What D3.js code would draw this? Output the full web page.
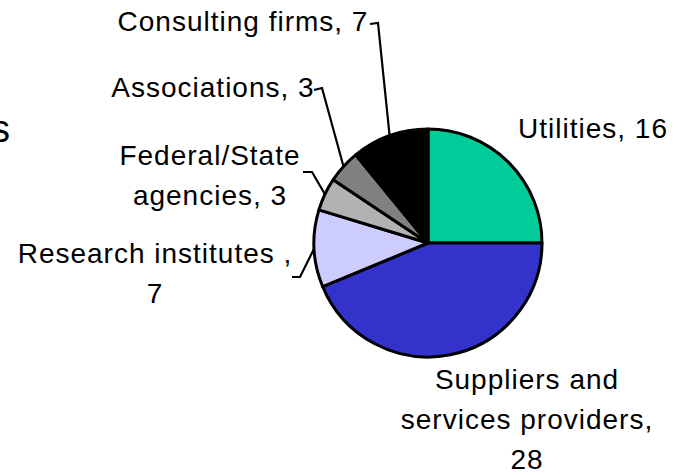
<!DOCTYPE html>
<html>
<head>
<meta charset="utf-8">
<script src="https://cdn.jsdelivr.net/npm/d3@7"></script>
<style>
  html, body { margin: 0; padding: 0; background: #fff; }
  svg { display: block; }
  text { font-family: "Liberation Sans", Arial, sans-serif; fill: #000; }
</style>
</head>
<body>
<svg id="chart" width="680" height="475"></svg>
<script>
// Stakeholder groups and counts, clockwise from 12 o'clock
const categories = ["Utilities", "Suppliers and services providers", "Research institutes",
  "Federal/State agencies", "Associations", "Consulting firms"];
const values = [16, 28, 7, 3, 3, 7];
const colors = ["#00CC99", "#3333CC", "#CCCCFF", "#B2B2B2", "#808080", "#000000"];
// Label text, one entry per line; {v} is replaced by the slice value
const labelLines = [
  ["Utilities, {v}"],
  ["Suppliers and", "services providers,", "{v}"],
  ["Research institutes ,", "{v}"],
  ["Federal/State", "agencies, {v}"],
  ["Associations, {v}"],
  ["Consulting firms, {v}"]
];

const svg = d3.select("#chart");
const cx = 428, cy = 243, r = 114;
const fontSize = 28, lineH = 40;

// label placement: centre x, first baseline y, and an optional leader (stub start, elbow)
const layout = [
  { x: 593, y: 138 },
  { x: 527, y: 389 },
  { x: 155, y: 263, leader: [[292, 277], [300, 277]] },
  { x: 210, y: 165, leader: [[303, 172], [312, 172]] },
  { x: 213, y: 97,  leader: [[314, 90], [322, 88]] },
  { x: 243, y: 31,  leader: [[370, 24], [378, 23]] }
];

const pie = d3.pie().sort(null).value(d => d)
  .startAngle(0).endAngle(2 * Math.PI);
const arcs = pie(values);
const arc = d3.arc().innerRadius(0).outerRadius(r);

const g = svg.append("g").attr("transform", `translate(${cx},${cy})`);

g.selectAll("path.slice")
  .data(arcs)
  .join("path")
  .attr("class", "slice")
  .attr("d", arc)
  .attr("fill", (d, i) => colors[i])
  .attr("stroke", "#000")
  .attr("stroke-width", 3)
  .attr("stroke-linejoin", "round");

// leader lines: stub beside the label, then to the slice edge at mid-angle
const line = d3.line();
arcs.forEach((d, i) => {
  const L = layout[i].leader;
  if (!L) return;
  const a = (d.startAngle + d.endAngle) / 2;
  const edge = [cx + r * Math.sin(a), cy - r * Math.cos(a)];
  svg.append("path")
    .attr("d", line([L[0], L[1], edge]))
    .attr("fill", "none")
    .attr("stroke", "#000")
    .attr("stroke-width", 2.2);
});

// slice labels
arcs.forEach((d, i) => {
  const t = svg.append("text")
    .attr("text-anchor", "middle")
    .attr("font-size", fontSize)
    .attr("letter-spacing", 1);
  labelLines[i].forEach((s, k) => {
    t.append("tspan")
      .attr("x", layout[i].x)
      .attr("y", layout[i].y + k * lineH)
      .text(s.replace("{v}", values[i]));
  });
});

// tail of a heading running off the left edge
svg.append("text")
  .attr("x", 10).attr("y", 142)
  .attr("text-anchor", "end")
  .attr("font-size", 38)
  .text("s");
</script>
</body>
</html>
